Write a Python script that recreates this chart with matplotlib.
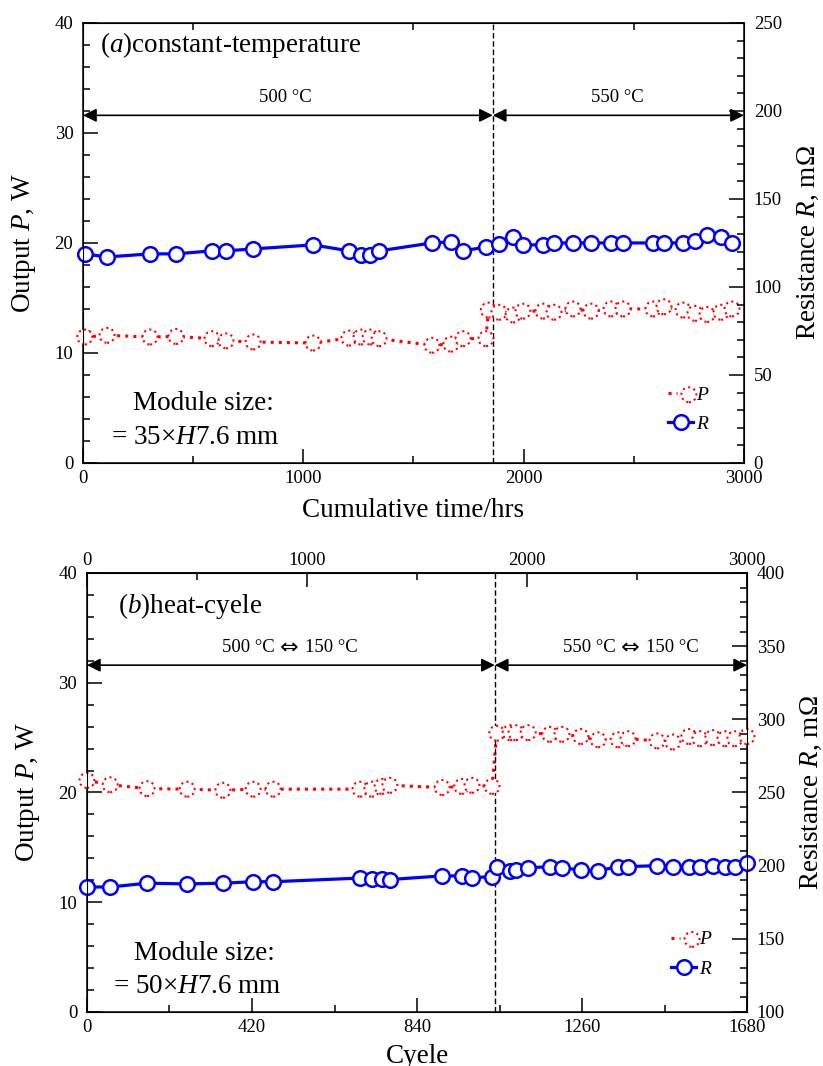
import numpy as np
import matplotlib
matplotlib.use('Agg')
import matplotlib.pyplot as plt
from matplotlib.ticker import MultipleLocator
from matplotlib.legend_handler import HandlerTuple

plt.rcParams['font.family'] = ['Liberation Serif', 'DejaVu Serif']
plt.rcParams['mathtext.fontset'] = 'custom'
plt.rcParams['mathtext.rm'] = 'Liberation Serif'
plt.rcParams['mathtext.it'] = 'Liberation Serif:italic'

# ---------------- (a) constant temperature ----------------
hrs_r = [8, 109, 304, 422, 585, 649, 772, 1044, 1207, 1262, 1303, 1344, 1584, 1670,
         1725, 1829, 1888, 1952, 1997, 2088, 2138, 2224, 2306, 2397, 2451, 2587,
         2637, 2724, 2778, 2833, 2896, 2946]
res_a = [118.8, 117.0, 118.8, 118.8, 120.5, 120.5, 121.6, 123.9, 120.5, 118.2, 118.2,
         120.5, 125.0, 125.6, 120.5, 122.7, 124.4, 128.4, 123.9, 123.9, 125.0, 125.0,
         125.0, 125.0, 125.0, 125.0, 125.0, 125.0, 126.0, 129.5, 128.4, 125.0]
hrs_p = [8, 109, 304, 422, 585, 649, 772, 1044, 1207, 1262, 1303, 1344, 1584, 1670,
         1725, 1829, 1840, 1888, 1952, 1997, 2088, 2138, 2224, 2306, 2397, 2451, 2587,
         2637, 2724, 2778, 2833, 2896, 2946]
pow_a = [11.45, 11.6, 11.45, 11.5, 11.3, 11.1, 11.0, 10.9, 11.35, 11.45, 11.45, 11.3,
         10.7, 10.8, 11.3, 11.3, 13.9, 13.7, 13.45, 13.8, 13.8, 13.7, 14.0, 13.8, 14.0,
         14.0, 14.0, 14.2, 13.9, 13.6, 13.5, 13.7, 14.0]
switch_a = 1860

# ---------------- (b) heat cycle ----------------
cyc = [0, 59, 153, 255, 346, 423, 474, 695, 725, 751, 771, 904, 954, 980, 1031, 1043,
       1077, 1092, 1123, 1178, 1209, 1257, 1301, 1352, 1377, 1451, 1491, 1532, 1560,
       1593, 1624, 1649, 1680]
pow_b = [21.1, 20.7, 20.35, 20.3, 20.2, 20.3, 20.3, 20.3, 20.3, 20.55, 20.65, 20.45,
         20.55, 20.65, 20.55, 25.4, 25.45, 25.45, 25.45, 25.3, 25.3, 25.1, 24.8, 24.8,
         24.9, 24.7, 24.6, 25.1, 24.9, 25.0, 24.9, 24.9, 25.1]
res_b = [185.4, 185.4, 188.0, 187.5, 188.0, 189.0, 189.0, 191.5, 191.0, 191.0, 190.5,
         193.0, 193.0, 191.7, 192.5, 199.3, 196.5, 197.0, 198.5, 199.3, 198.5, 197.0,
         196.5, 199.3, 199.3, 200.0, 199.3, 199.3, 199.3, 200.0, 199.3, 199.0, 202.0]
switch_b = 1038

LAB = 19.5
TICK = 13.5
NOTE = 13.5


def style_left(ax):
    ax.set_ylim(0, 40)
    ax.yaxis.set_major_locator(MultipleLocator(10))
    ax.yaxis.set_minor_locator(MultipleLocator(2))
    ax.tick_params(axis='y', which='both', direction='in', labelsize=TICK, pad=7, width=1.1)
    ax.tick_params(axis='y', which='major', length=11)
    ax.tick_params(axis='y', which='minor', length=5)
    ax.tick_params(axis='x', which='both', direction='in', labelsize=TICK, pad=5, width=1.1)
    ax.tick_params(axis='x', which='major', length=10)
    ax.tick_params(axis='x', which='minor', length=5)
    for s in ax.spines.values():
        s.set_linewidth(1.1)
    ax.set_ylabel('Output $P$, W', fontsize=LAB, labelpad=12)


def style_right(ax2, lo, hi):
    ax2.set_ylim(lo, hi)
    ax2.yaxis.set_major_locator(MultipleLocator(50))
    ax2.yaxis.set_minor_locator(MultipleLocator(10))
    ax2.tick_params(axis='y', which='both', direction='in', labelsize=TICK, pad=7, width=1.1)
    ax2.tick_params(axis='y', which='major', length=11)
    ax2.tick_params(axis='y', which='minor', length=5)
    ax2.set_ylabel('Resistance $R$, m\u03a9', fontsize=LAB, labelpad=10)


def draw(ax, ax2, x_p, p, x_r, r):
    lp, = ax.plot(x_p, p, ls=':', color='red', lw=2.2, clip_on=False)
    sp = ax.scatter(x_p, p, s=115, facecolors='white', edgecolors='red',
                    linewidths=1.5, linestyle=':', zorder=3, clip_on=False)
    lr, = ax2.plot(x_r, r, '-o', color='blue', lw=2.3, ms=10.5, mfc='white',
                   mec='blue', mew=1.8, clip_on=False)
    return lp, sp, lr


def arrows(ax, x0, xs, x1, y):
    kw = dict(arrowstyle='<|-|>', color='black', lw=1.2, mutation_scale=20,
              shrinkA=0, shrinkB=0)
    ax.annotate('', xy=(x0, y), xytext=(xs, y), arrowprops=kw)
    ax.annotate('', xy=(xs, y), xytext=(x1, y), arrowprops=kw)


def add_legend(ax2, lp, sp, lr, y):
    ax2.legend([(lp, sp), lr], ['$P$', '$R$'],
               handler_map={tuple: HandlerTuple(ndivide=None)},
               loc='lower right', bbox_to_anchor=(0.975, y), frameon=False,
               fontsize=14, handlelength=1.3, handletextpad=0.15, labelspacing=0.6,
               numpoints=1, scatterpoints=1)


def cycle_note(ax, xc, yc, hot, cold):
    # "hot ⇔ cold" with a wide arrow glyph in the middle
    ax.annotate(hot, xy=(xc, yc), xycoords='axes fraction', xytext=(-10.5, 0),
                textcoords='offset points', fontsize=NOTE, ha='right', va='center')
    ax.annotate('\u21d4', xy=(xc, yc), xycoords='axes fraction', fontsize=16,
                ha='center', va='center', family='DejaVu Sans')
    ax.annotate(cold, xy=(xc, yc), xycoords='axes fraction', xytext=(11.5, 0),
                textcoords='offset points', fontsize=NOTE, ha='left', va='center')


fig = plt.figure(figsize=(8.23, 10.66), dpi=100)

# panel (a)
axa = fig.add_axes([0.1009, 0.5657, 0.803, 0.4128])
axa2 = axa.twinx()
axa.set_xlim(0, 3000)
axa.xaxis.set_major_locator(MultipleLocator(1000))
axa.xaxis.set_minor_locator(MultipleLocator(500))
style_left(axa)
axa.tick_params(axis='x', which='minor', top=True)
style_right(axa2, 0, 250)
lp, sp, lr = draw(axa, axa2, hrs_p, pow_a, hrs_r, res_a)
axa.axvline(switch_a, color='black', lw=1.0, ls=(0, (4, 2)))
arrows(axa, 0, switch_a, 3000, 31.6)
axa.set_xlabel('Cumulative time/hrs', fontsize=LAB, labelpad=8)
axa.text(0.026, 0.95, '($a$)constant-temperature', transform=axa.transAxes,
         fontsize=LAB, va='center', ha='left')
axa.text(0.306, 0.83, '500 \u00b0C', transform=axa.transAxes, fontsize=NOTE,
         ha='center', va='center')
axa.text(0.809, 0.83, '550 \u00b0C', transform=axa.transAxes, fontsize=NOTE,
         ha='center', va='center')
axa.text(0.0756, 0.136, 'Module size:', transform=axa.transAxes, fontsize=LAB,
         ha='left', va='center')
axa.text(0.042, 0.059, '= 35\u00d7$H$7.6 mm', transform=axa.transAxes, fontsize=LAB,
         ha='left', va='center')
add_legend(axa2, lp, sp, lr, 0.028)

# panel (b)
axb = fig.add_axes([0.1057, 0.0507, 0.802, 0.4118])
axb2 = axb.twinx()
axb.set_xlim(0, 1680)
axb.xaxis.set_major_locator(MultipleLocator(420))
axb.xaxis.set_minor_locator(MultipleLocator(210))
style_left(axb)
style_right(axb2, 100, 400)
lp, sp, lr = draw(axb, axb2, cyc, pow_b, cyc, res_b)
axb.axvline(switch_b, color='black', lw=1.0, ls=(0, (4, 2)))
arrows(axb, 0, switch_b, 1680, 31.6)
axb.set_xlabel('Cyele', fontsize=LAB, labelpad=6)
sec = axb.secondary_xaxis('top', functions=(lambda c: c * 3000 / 1680,
                                            lambda h: h * 1680 / 3000))
sec.xaxis.set_major_locator(MultipleLocator(1000))
sec.xaxis.set_minor_locator(MultipleLocator(500))
sec.tick_params(which='both', direction='in', labelsize=TICK, pad=3, width=1.1)
sec.tick_params(which='major', length=10)
sec.tick_params(which='minor', length=5)
sec.spines['top'].set_linewidth(1.1)
axb.text(0.047, 0.925, '($b$)heat-cyele', transform=axb.transAxes,
         fontsize=LAB, va='center', ha='left')
cycle_note(axb, 0.306, 0.83, '500 \u00b0C', '150 \u00b0C')
cycle_note(axb, 0.823, 0.83, '550 \u00b0C', '150 \u00b0C')
axb.text(0.071, 0.134, 'Module size:', transform=axb.transAxes, fontsize=LAB,
         ha='left', va='center')
axb.text(0.039, 0.057, '= 50\u00d7$H$7.6 mm', transform=axb.transAxes, fontsize=LAB,
         ha='left', va='center')
add_legend(axb2, lp, sp, lr, 0.038)

fig.savefig('out.png', dpi=100)
